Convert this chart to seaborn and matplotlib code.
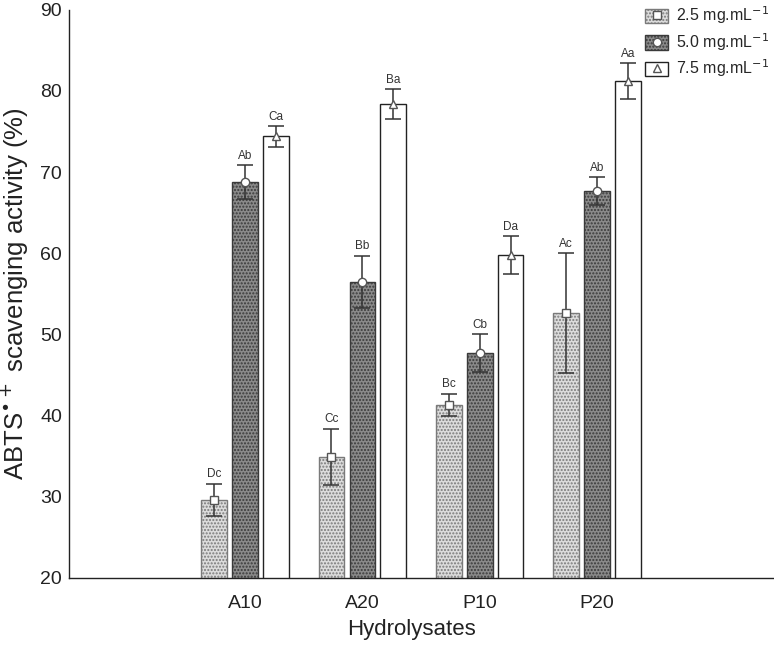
import pandas as pd
import matplotlib
matplotlib.use("Agg")
import matplotlib.pyplot as plt
from matplotlib.patches import Patch
from matplotlib.lines import Line2D
import seaborn as sns

# values
hydrolysates = ["A10", "A20", "P10", "P20"]
concentrations = ["2.5", "5.0", "7.5"]
act_25 = [29.6, 34.9, 41.3, 52.6]
act_50 = [68.8, 56.5, 47.7, 67.7]
act_75 = [74.4, 78.4, 59.8, 81.2]
err_25 = [2.0, 3.5, 1.4, 7.4]
err_50 = [2.1, 3.2, 2.3, 1.7]
err_75 = [1.3, 1.8, 2.3, 2.2]
let_25 = ["Dc", "Cc", "Bc", "Ac"]
let_50 = ["Ab", "Bb", "Cb", "Ab"]
let_75 = ["Ca", "Ba", "Da", "Aa"]

# two empty slots on either side, like the original axis
order = [" ", "A10", "A20", "P10", "P20", "  "]

rows = []
for i, h in enumerate(hydrolysates):
    for c, v, e, l in zip(concentrations,
                          [act_25, act_50, act_75],
                          [err_25, err_50, err_75],
                          [let_25, let_50, let_75]):
        rows.append({"hyd": h, "conc": c, "act": v[i], "err": e[i], "let": l[i]})
df = pd.DataFrame(rows)

sns.set_theme(style="white")
plt.rcParams["font.family"] = ["Liberation Sans", "DejaVu Sans"]
plt.rcParams["hatch.linewidth"] = 1.0

fig = plt.figure(figsize=(7.74, 6.5), dpi=100)
ax = fig.add_axes([0.089, 0.111, 0.91, 0.874])

sns.barplot(data=df, x="hyd", y="act", hue="conc", order=order,
            hue_order=concentrations, errorbar=None, gap=0.17,
            width=0.79, legend=False, ax=ax)

styles = {
    "2.5": dict(fc="#dcdcdc", ec="#7a7a7a", hatch=".....", marker="s"),
    "5.0": dict(fc="#8a8a8a", ec="#3a3a3a", hatch=".....", marker="o"),
    "7.5": dict(fc="white", ec="#222222", hatch="", marker="^"),
}

for conc, cont in zip(concentrations, ax.containers):
    st = styles[conc]
    sub = df[df.conc == conc]
    for bar in cont:
        h = bar.get_height()
        if pd.isna(h) or h == 0:
            continue
        row = sub.iloc[(sub.act - h).abs().argmin()]
        bar.set_facecolor(st["fc"])
        bar.set_edgecolor(st["ec"])
        bar.set_hatch(st["hatch"])
        bar.set_linewidth(1.0)
        xc = bar.get_x() + bar.get_width() / 2
        ax.errorbar(xc, row.act, yerr=row.err, fmt="none", ecolor="#333333",
                    elinewidth=1.1, capsize=6, capthick=1.1, zorder=4)
        ax.plot(xc, row.act, marker=st["marker"], ms=6, mfc="white",
                mec="#555555", mew=1.0, zorder=5)
        ax.text(xc, row.act + row.err + 0.4, row["let"], ha="center",
                va="bottom", fontsize=8.5, color="#333333")

ax.set_ylim(20, 90)
ax.set_xlim(-0.5, 5.5)
ax.set_yticks(range(20, 91, 10))
ax.set_xticklabels(["", "A10", "A20", "P10", "P20", ""])
ax.tick_params(axis="x", direction="in", length=3, width=0.8, colors="#333333",
               labelsize=14, labelcolor="#222222", pad=12)
ax.tick_params(axis="y", length=0, labelsize=14, labelcolor="#222222", pad=5)
for s in ["top", "right"]:
    ax.spines[s].set_visible(False)
for s in ["left", "bottom"]:
    ax.spines[s].set_color("#222222")
    ax.spines[s].set_linewidth(1.0)

ax.set_xlabel("Hydrolysates", fontsize=16, color="#222222")
ax.xaxis.set_label_coords(0.486, -0.072)
ax.set_ylabel(r"ABTS$^{\bullet+}$ scavenging activity (%)", fontsize=18.5,
              color="#222222")
ax.yaxis.set_label_coords(-0.054, 0.5)

handles = []
for conc in concentrations:
    st = styles[conc]
    p = Patch(facecolor=st["fc"], edgecolor=st["ec"], hatch=st["hatch"], lw=1.0)
    m = Line2D([], [], ls="none", marker=st["marker"], ms=6, mfc="white",
               mec="#555555", mew=1.0)
    handles.append((p, m))
labels = [f"{c} mg.mL$^{{-1}}$" for c in concentrations]
fig.legend(handles, labels, loc="upper right", bbox_to_anchor=(1.0, 1.0),
           frameon=False, fontsize=11.5, handlelength=1.45, handleheight=1.0,
           labelspacing=0.3, handletextpad=0.5, borderaxespad=0.1,
           borderpad=0.2)

fig.savefig("out.png", dpi=100)
